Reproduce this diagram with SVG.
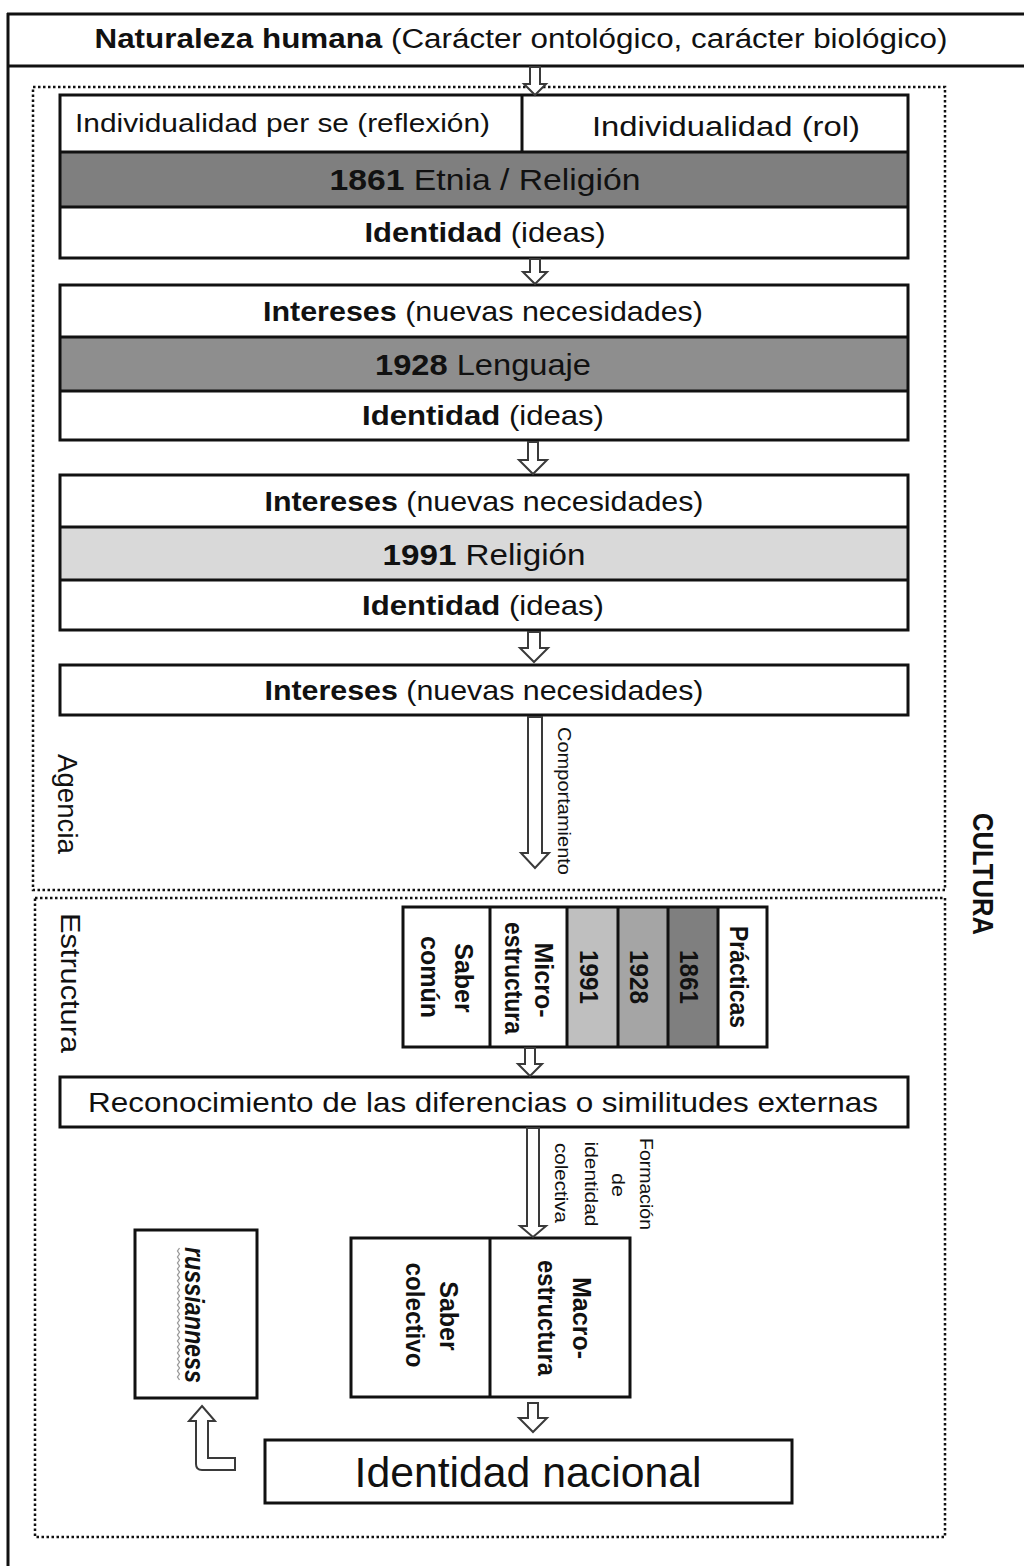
<svg xmlns="http://www.w3.org/2000/svg" width="1024" height="1566" viewBox="0 0 1024 1566">
<style>
text{font-family:"Liberation Sans",Arial,sans-serif;fill:#111}
.b{font-weight:bold}
.box{fill:none;stroke:#111;stroke-width:3}
.ln{stroke:#111;stroke-width:3}
.dot{fill:none;stroke:#111;stroke-width:2.5;stroke-dasharray:2.5 2.5}
.arr{fill:#fff;stroke:#3a3a3a;stroke-width:2;stroke-linejoin:miter}
.h{font-size:28px;text-anchor:middle}
.r{font-size:25px;font-weight:bold;text-anchor:middle}
</style>
<rect width="1024" height="1566" fill="#fff"/>

<g id="frame">
<line class="ln" x1="8" y1="13" x2="8" y2="1566"/>
</g>

<g id="header">
<line class="ln" x1="7" y1="14" x2="1024" y2="14"/>
<line class="ln" x1="7" y1="66" x2="1024" y2="66"/>
<text x="521" y="48" font-size="27" text-anchor="middle" textLength="853" lengthAdjust="spacingAndGlyphs"><tspan class="b">Naturaleza humana</tspan> (Carácter ontológico, carácter biológico)</text>
</g>

<g id="agencia">
<rect class="dot" x="33" y="87" width="912" height="803"/>
<text transform="translate(58,804) rotate(90)" font-size="27" text-anchor="middle" textLength="100" lengthAdjust="spacingAndGlyphs">Agencia</text>
</g>

<g id="estructura">
<rect class="dot" x="35" y="898" width="910" height="639"/>
<text transform="translate(61,983) rotate(90)" font-size="27" text-anchor="middle" textLength="140" lengthAdjust="spacingAndGlyphs">Estructura</text>
</g>

<g id="cultura">
<text transform="translate(973,874) rotate(90)" font-size="30" font-weight="bold" text-anchor="middle" textLength="122" lengthAdjust="spacingAndGlyphs">CULTURA</text>
</g>

<g id="box1861">
<rect x="60" y="152" width="848" height="55" fill="#7f7f7f"/>
<rect class="box" x="60" y="95" width="848" height="163" fill="none"/>
<line class="ln" x1="60" y1="152" x2="908" y2="152"/>
<line class="ln" x1="60" y1="207" x2="908" y2="207"/>
<line class="ln" x1="522" y1="95" x2="522" y2="152"/>
<text x="75" y="132" font-size="25" textLength="415" lengthAdjust="spacingAndGlyphs">Individualidad per se (reflexión)</text>
<text x="726" y="136" class="h" textLength="268" lengthAdjust="spacingAndGlyphs">Individualidad (rol)</text>
<text x="485" y="190" font-size="30" text-anchor="middle" textLength="311" lengthAdjust="spacingAndGlyphs"><tspan class="b">1861</tspan> Etnia / Religión</text>
<text x="485" y="242" class="h" textLength="241" lengthAdjust="spacingAndGlyphs"><tspan class="b">Identidad</tspan> (ideas)</text>
</g>

<g id="box1928">
<rect x="60" y="337" width="848" height="54" fill="#8e8e8e"/>
<rect class="box" x="60" y="285" width="848" height="155"/>
<line class="ln" x1="60" y1="337" x2="908" y2="337"/>
<line class="ln" x1="60" y1="391" x2="908" y2="391"/>
<text x="483" y="321" class="h" textLength="440" lengthAdjust="spacingAndGlyphs"><tspan class="b">Intereses</tspan> (nuevas necesidades)</text>
<text x="483" y="375" font-size="30" text-anchor="middle" textLength="216" lengthAdjust="spacingAndGlyphs"><tspan class="b">1928</tspan> Lenguaje</text>
<text x="483" y="425" class="h" textLength="242" lengthAdjust="spacingAndGlyphs"><tspan class="b">Identidad</tspan> (ideas)</text>
</g>

<g id="box1991">
<rect x="60" y="527" width="848" height="53" fill="#d9d9d9"/>
<rect class="box" x="60" y="475" width="848" height="155"/>
<line class="ln" x1="60" y1="527" x2="908" y2="527"/>
<line class="ln" x1="60" y1="580" x2="908" y2="580"/>
<text x="484" y="511" class="h" textLength="439" lengthAdjust="spacingAndGlyphs"><tspan class="b">Intereses</tspan> (nuevas necesidades)</text>
<text x="484" y="565" font-size="30" text-anchor="middle" textLength="203" lengthAdjust="spacingAndGlyphs"><tspan class="b">1991</tspan> Religión</text>
<text x="483" y="615" class="h" textLength="242" lengthAdjust="spacingAndGlyphs"><tspan class="b">Identidad</tspan> (ideas)</text>
</g>

<g id="intereses">
<rect class="box" x="60" y="665" width="848" height="50"/>
<text x="484" y="700" class="h" textLength="439" lengthAdjust="spacingAndGlyphs"><tspan class="b">Intereses</tspan> (nuevas necesidades)</text>
</g>

<g id="columnas">
<rect x="567" y="907" width="51" height="140" fill="#bfbfbf"/>
<rect x="618" y="907" width="50" height="140" fill="#a5a5a5"/>
<rect x="668" y="907" width="50" height="140" fill="#7f7f7f"/>
<rect class="box" x="403" y="907" width="364" height="140"/>
<line class="ln" x1="490" y1="907" x2="490" y2="1047"/>
<line class="ln" x1="567" y1="907" x2="567" y2="1047"/>
<line class="ln" x1="618" y1="907" x2="618" y2="1047"/>
<line class="ln" x1="668" y1="907" x2="668" y2="1047"/>
<line class="ln" x1="718" y1="907" x2="718" y2="1047"/>
<text class="r" transform="translate(455,978) rotate(90)">Saber</text>
<text class="r" transform="translate(421,977) rotate(90)">común</text>
<text class="r" transform="translate(535,980) rotate(90)">Micro-</text>
<text class="r" transform="translate(505,978) rotate(90)" textLength="112" lengthAdjust="spacingAndGlyphs">estructura</text>
<text class="r" transform="translate(580,977) rotate(90)" textLength="54" lengthAdjust="spacingAndGlyphs">1991</text>
<text class="r" transform="translate(630,977) rotate(90)" textLength="54" lengthAdjust="spacingAndGlyphs">1928</text>
<text class="r" transform="translate(680,977) rotate(90)" textLength="54" lengthAdjust="spacingAndGlyphs">1861</text>
<text class="r" transform="translate(730,977) rotate(90)" textLength="102" lengthAdjust="spacingAndGlyphs">Prácticas</text>
</g>

<g id="reconocimiento">
<rect class="box" x="60" y="1077" width="848" height="50"/>
<text x="483" y="1112" class="h" textLength="790" lengthAdjust="spacingAndGlyphs">Reconocimiento de las diferencias o similitudes externas</text>
</g>

<g id="macro">
<rect class="box" x="351" y="1238" width="279" height="159"/>
<line class="ln" x1="490" y1="1238" x2="490" y2="1397"/>
<text class="r" transform="translate(440,1316) rotate(90)">Saber</text>
<text class="r" transform="translate(406,1315) rotate(90)" textLength="105" lengthAdjust="spacingAndGlyphs">colectivo</text>
<text class="r" transform="translate(573,1318) rotate(90)">Macro-</text>
<text class="r" transform="translate(538,1318) rotate(90)" textLength="116" lengthAdjust="spacingAndGlyphs">estructura</text>
</g>

<g id="russianness">
<rect class="box" x="135" y="1230" width="122" height="168"/>
<path d="M179.5,1248 l-2,3 l2,3 l-2,3 l2,3 l-2,3 l2,3 l-2,3 l2,3 l-2,3 l2,3 l-2,3 l2,3 l-2,3 l2,3 l-2,3 l2,3 l-2,3 l2,3 l-2,3 l2,3 l-2,3 l2,3 l-2,3 l2,3 l-2,3 l2,3 l-2,3 l2,3 l-2,3 l2,3 l-2,3 l2,3 l-2,3 l2,3 l-2,3 l2,3 l-2,3 l2,3 l-2,3 l2,3 l-2,3 l2,3 l-2,3 l2,3" fill="none" stroke="#999" stroke-width="1.3"/>
<text transform="translate(185,1315) rotate(90)" font-size="27" font-style="italic" font-weight="bold" text-anchor="middle" textLength="136" lengthAdjust="spacingAndGlyphs">russianness</text>
</g>

<g id="nacional">
<rect class="box" x="265" y="1440" width="527" height="63"/>
<text x="528" y="1487" font-size="42" text-anchor="middle" textLength="347" lengthAdjust="spacingAndGlyphs">Identidad nacional</text>
</g>

<g id="connectors">
<polygon class="arr" points="530,67 540,67 540,84 546,84 535,95 524,84 530,84"/>
<polygon class="arr" points="530,259 540,259 540,272 547,272 535,284 523,272 530,272"/>
<polygon class="arr" points="528,442 538,442 538,460 547,460 533,474 519,460 528,460"/>
<polygon class="arr" points="528,632 540,632 540,648 548,648 534,662 520,648 528,648"/>
<polygon class="arr" points="528,717 542,717 542,853 549,853 535,868 521,853 528,853"/>
<polygon class="arr" points="525,1048 535,1048 535,1064 542,1064 530,1076 518,1064 525,1064"/>
<polygon class="arr" points="527,1128 539,1128 539,1226 546,1226 533,1237 520,1226 527,1226"/>
<polygon class="arr" points="528,1403 538,1403 538,1418 547,1418 533,1432 519,1418 528,1418"/>
<path class="arr" d="M202,1406 L215,1421 L208,1421 L208,1458 L235,1458 L235,1470 L202,1470 Q196,1470 196,1464 L196,1421 L189,1421 Z"/>
<text transform="translate(558,801) rotate(90)" font-size="18" text-anchor="middle" textLength="148" lengthAdjust="spacingAndGlyphs">Comportamiento</text>
<text transform="translate(640,1184) rotate(90)" font-size="18" text-anchor="middle" textLength="92" lengthAdjust="spacingAndGlyphs">Formación</text>
<text transform="translate(612,1185) rotate(90)" font-size="18" text-anchor="middle" textLength="24" lengthAdjust="spacingAndGlyphs">de</text>
<text transform="translate(585,1184) rotate(90)" font-size="18" text-anchor="middle" textLength="85" lengthAdjust="spacingAndGlyphs">identidad</text>
<text transform="translate(555,1183) rotate(90)" font-size="18" text-anchor="middle" textLength="80" lengthAdjust="spacingAndGlyphs">colectiva</text>
</g>
</svg>
